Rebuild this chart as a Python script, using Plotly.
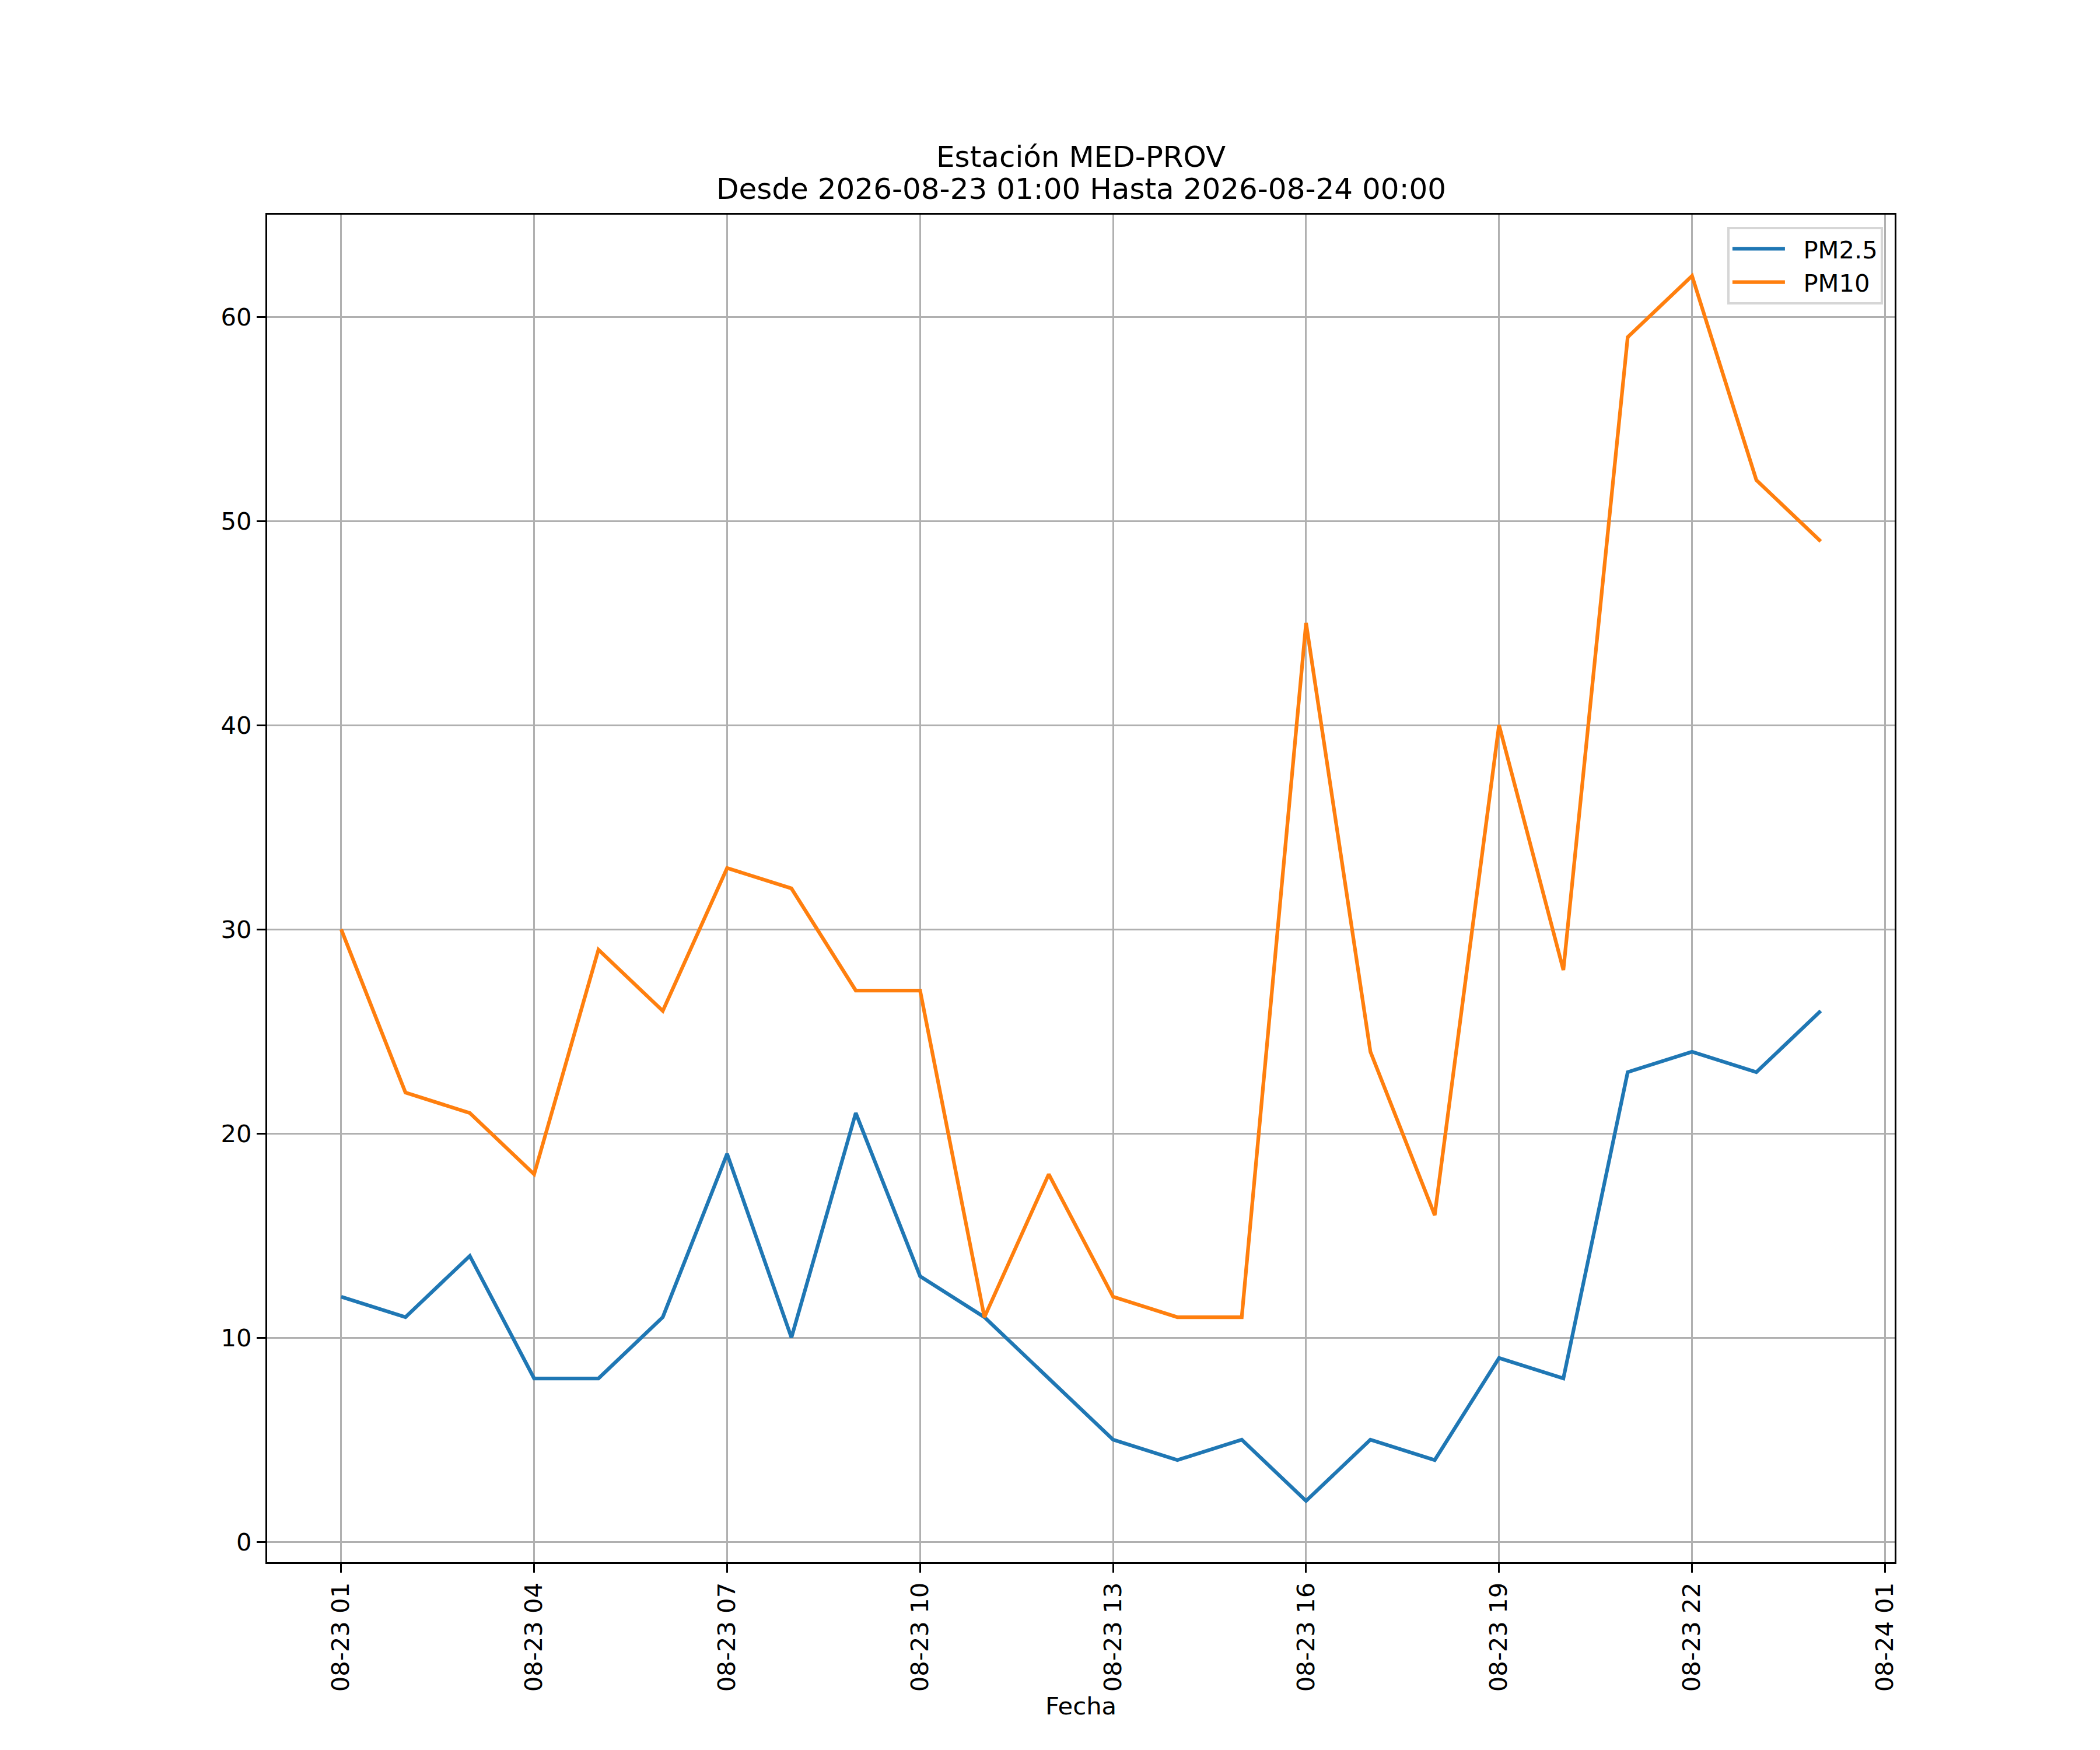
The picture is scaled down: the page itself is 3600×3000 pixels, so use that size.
import plotly.graph_objects as go

# --- datos ---
fechas = [
    "2026-08-23 01:00", "2026-08-23 02:00", "2026-08-23 03:00", "2026-08-23 04:00",
    "2026-08-23 05:00", "2026-08-23 06:00", "2026-08-23 07:00", "2026-08-23 08:00",
    "2026-08-23 09:00", "2026-08-23 10:00", "2026-08-23 11:00", "2026-08-23 12:00",
    "2026-08-23 13:00", "2026-08-23 14:00", "2026-08-23 15:00", "2026-08-23 16:00",
    "2026-08-23 17:00", "2026-08-23 18:00", "2026-08-23 19:00", "2026-08-23 20:00",
    "2026-08-23 21:00", "2026-08-23 22:00", "2026-08-23 23:00", "2026-08-24 00:00",
]
pm25 = [12, 11, 14, 8, 8, 11, 19, 10, 21, 13, 11, 8,
        5, 4, 5, 2, 5, 4, 9, 8, 23, 24, 23, 26]
pm10 = [30, 22, 21, 18, 29, 26, 33, 32, 27, 27, 11, 18,
        12, 11, 11, 45, 24, 16, 40, 28, 59, 62, 52, 49]

estacion = "MED-PROV"
desde = "2026-08-23 01:00"
hasta = "2026-08-24 00:00"

FUENTE = "DejaVu Sans"
TAM = 41.7      # 10 pt a 300 dpi
LW = 6.25       # 1.5 pt
FINO = 3.3      # 0.8 pt
ESP = "&nbsp;&nbsp;"  # hueco entre linea y texto de la leyenda

fig = go.Figure()
fig.add_trace(go.Scatter(x=fechas, y=pm25, mode="lines", name=ESP + "PM2.5",
                         line=dict(color="#1f77b4", width=LW)))
fig.add_trace(go.Scatter(x=fechas, y=pm10, mode="lines", name=ESP + "PM10",
                         line=dict(color="#ff7f0e", width=LW)))

# titulo en dos lineas (como matplotlib)
fig.add_annotation(text=f"Estación {estacion}", xref="paper", yref="paper",
                   x=0.5, y=1, xanchor="center", yanchor="bottom", yshift=68,
                   showarrow=False, font=dict(family=FUENTE, size=50, color="black"))
fig.add_annotation(text=f"Desde {desde} Hasta {hasta}", xref="paper", yref="paper",
                   x=0.5, y=1, xanchor="center", yanchor="bottom", yshift=13,
                   showarrow=False, font=dict(family=FUENTE, size=50, color="black"))

fig.update_layout(
    width=3600, height=3000,
    margin=dict(l=450, r=360, t=360, b=330),
    paper_bgcolor="white", plot_bgcolor="white",
    font=dict(family=FUENTE, size=TAM, color="black"),
    showlegend=True,
    legend=dict(x=0.9928, y=0.991, xanchor="right", yanchor="top",
                bgcolor="rgba(255,255,255,0.8)", bordercolor="rgba(204,204,204,0.8)",
                borderwidth=4, font=dict(family=FUENTE, size=TAM), itemwidth=90,
                tracegroupgap=0),
)

fig.update_xaxes(
    range=["2026-08-22 23:51", "2026-08-24 01:09"],
    tick0="2026-08-23 01:00", dtick=3 * 3600 * 1000, tickformat="%m-%d %H",
    tickangle=-90, ticks="outside", ticklen=15, tickwidth=FINO, tickcolor="black",
    showline=True, linecolor="black", linewidth=FINO, mirror=True,
    showgrid=True, gridcolor="#b0b0b0", gridwidth=FINO, zeroline=False,
    title=dict(text="Fecha", font=dict(family=FUENTE, size=TAM), standoff=11),
)
fig.update_yaxes(
    range=[-1, 65], dtick=10, tick0=0,
    ticks="outside", ticklen=15, tickwidth=FINO, tickcolor="black",
    showline=True, linecolor="black", linewidth=FINO, mirror=True,
    showgrid=True, gridcolor="#b0b0b0", gridwidth=FINO, zeroline=False,
)

fig.write_html("out.html")
